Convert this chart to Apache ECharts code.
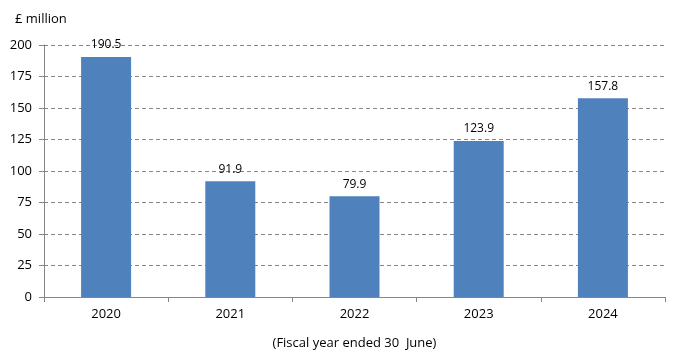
<!DOCTYPE html>
<html><head><meta charset="utf-8">
<script src="https://cdn.jsdelivr.net/npm/echarts@6/dist/echarts.min.js"></script>
<style>html,body{margin:0;padding:0;background:#fff}#c{width:680px;height:363px}</style>
</head><body><div id="c"></div>
<script>
const categories = ['2020','2021','2022','2023','2024'];
const values = [190.5, 91.9, 79.9, 123.9, 157.8];
const yTicks = [0,25,50,75,100,125,150,175,200];
const FONT = '"Open Sans", "Noto Sans", sans-serif';
const chart = echarts.init(document.getElementById('c'), null, {renderer:'canvas'});
chart.setOption({
  animation:false,
  textStyle:{fontFamily:FONT},
  title:{text:'£ million', left:10, top:8, textStyle:{fontSize:13, fontWeight:'normal', color:'#000', fontFamily:FONT}},
  grid:{left:44, right:15, top:45, bottom:66},
  xAxis:{type:'category', data:categories,
    name:'(Fiscal year ended 30  June)', nameLocation:'middle', nameGap:40,
    nameTextStyle:{fontSize:13, color:'#000', fontFamily:FONT},
    axisLine:{lineStyle:{color:'#868686', width:1}},
    axisTick:{show:true, alignWithLabel:false, length:5, lineStyle:{color:'#868686'}},
    axisLabel:{fontSize:13, color:'#000', margin:11, fontFamily:FONT}
  },
  yAxis:{type:'value', min:yTicks[0], max:yTicks[yTicks.length-1], interval:25,
    axisLine:{show:true, lineStyle:{color:'#868686'}},
    axisTick:{show:true, length:5, lineStyle:{color:'#868686'}},
    axisLabel:{fontSize:13, color:'#000', margin:12, fontFamily:FONT},
    splitLine:{show:true, lineStyle:{color:'#868686', type:[4,3], width:1}}
  },
  series:[{type:'bar', data:values, barWidth:50, itemStyle:{color:'#4F81BD'},
    label:{show:true, position:'top', distance:6, fontSize:12, color:'#000', fontFamily:FONT,
      formatter:p=>p.value.toFixed(1)}}]
});
</script></body></html>
